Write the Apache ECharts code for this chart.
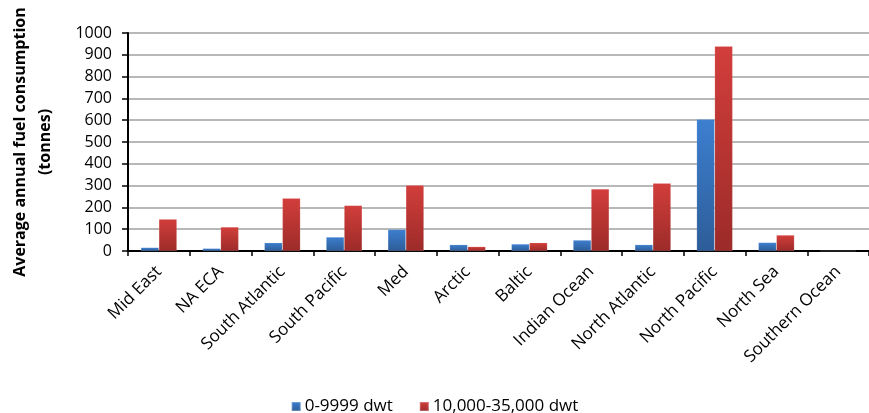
<!DOCTYPE html>
<html>
<head>
<meta charset="utf-8">
<script src="https://cdn.jsdelivr.net/npm/echarts@6/dist/echarts.min.js"></script>
<style>
html,body{margin:0;padding:0;background:#fff;}
#chart{width:869px;height:413px;}
</style>
</head>
<body>
<div id="chart"></div>
<script>
const categories = ['Mid East','NA ECA','South Atlantic','South Pacific','Med','Arctic','Baltic','Indian Ocean','North Atlantic','North Pacific','North Sea','Southern Ocean'];
const seriesNames = ['0-9999 dwt','10,000-35,000 dwt'];
const smallShips = [16, 12, 38, 64, 99, 29, 32, 50, 29, 604, 39, 0];
const largeShips = [146, 110, 242, 209, 302, 20, 38, 284, 311, 939, 73, 0];
const yTicks = {min: 0, max: 1000, interval: 100};
const yTitle = 'Average annual fuel consumption\n(tonnes)';

const FONT = '"Open Sans", sans-serif';
function grad(top, bottom){
  return new echarts.graphic.LinearGradient(0,0,0,1,[{offset:0,color:top},{offset:1,color:bottom}]);
}
const chart = echarts.init(document.getElementById('chart'), null, {renderer:'canvas'});
chart.setOption({
  animation:false,
  backgroundColor:'#fff',
  textStyle:{fontFamily:FONT},
  grid:{left:115, top:33, right:-7, bottom:162, containLabel:false},
  legend:{
    data:seriesNames,
    bottom:-7, left:'center',
    itemWidth:9, itemHeight:9, itemGap:26,
    icon:'rect',
    textStyle:{fontSize:17, color:'#000', fontFamily:FONT, padding:[0,0,0,-1]}
  },
  xAxis:{
    type:'category',
    data:categories,
    axisLine:{lineStyle:{color:'#000', width:2}},
    axisTick:{show:true, length:5, lineStyle:{color:'#000', width:1.5}},
    axisLabel:{rotate:45, fontSize:17, color:'#000', fontFamily:FONT, margin:18, interval:0}
  },
  yAxis:{
    type:'value',
    min:yTicks.min, max:yTicks.max, interval:yTicks.interval,
    name:yTitle,
    nameLocation:'middle',
    nameGap:70,
    nameRotate:90,
    nameTextStyle:{fontSize:16, fontWeight:'bold', color:'#000', fontFamily:FONT, lineHeight:25, align:'center'},
    axisLine:{show:true, lineStyle:{color:'#000', width:2}},
    axisTick:{show:true, length:6, lineStyle:{color:'#000', width:1.5}},
    axisLabel:{fontSize:16, color:'#000', fontFamily:FONT, margin:16, formatter:function(v){return String(v);}},
    splitLine:{lineStyle:{color:'#a0a0a0', width:1.5}}
  },
  series:[
    {name:seriesNames[0], type:'bar', data:smallShips, barWidth:18, barGap:'0%',
     itemStyle:{color:grad('#3d7fd0','#2d5d98'), borderColor:'rgba(255,255,255,0.25)', borderWidth:0.5}},
    {name:seriesNames[1], type:'bar', data:largeShips, barWidth:18, barGap:'0%',
     itemStyle:{color:grad('#d23e3b','#9c2b29'), borderColor:'rgba(255,255,255,0.25)', borderWidth:0.5}}
  ]
});
</script>
</body>
</html>
